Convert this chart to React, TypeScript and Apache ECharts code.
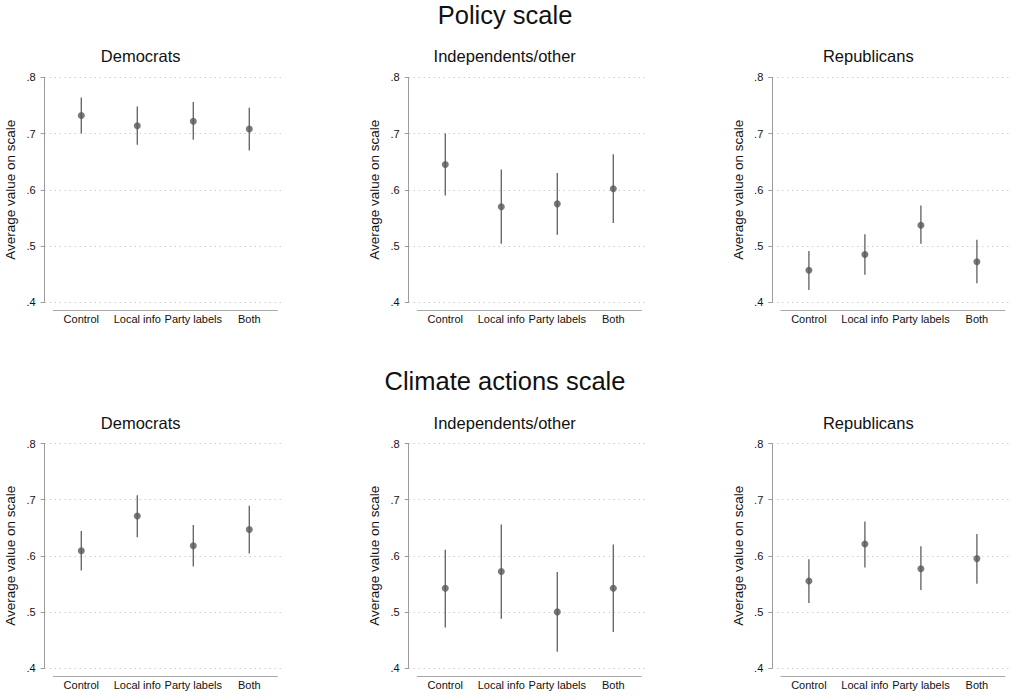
import React, { useEffect, useRef } from "react";
import * as echarts from "echarts";

const categories = ["Control", "Local info", "Party labels", "Both"];
const yTicks = [0.4, 0.5, 0.6, 0.7, 0.8];

const policyDemMean = [0.732, 0.714, 0.722, 0.708];
const policyDemLow = [0.7, 0.68, 0.689, 0.67];
const policyDemHigh = [0.764, 0.748, 0.756, 0.746];

const policyIndMean = [0.645, 0.57, 0.575, 0.602];
const policyIndLow = [0.59, 0.504, 0.52, 0.541];
const policyIndHigh = [0.7, 0.636, 0.63, 0.663];

const policyRepMean = [0.457, 0.485, 0.537, 0.472];
const policyRepLow = [0.422, 0.449, 0.504, 0.434];
const policyRepHigh = [0.491, 0.521, 0.572, 0.511];

const climateDemMean = [0.609, 0.671, 0.618, 0.647];
const climateDemLow = [0.574, 0.633, 0.581, 0.604];
const climateDemHigh = [0.644, 0.708, 0.655, 0.689];

const climateIndMean = [0.542, 0.572, 0.5, 0.542];
const climateIndLow = [0.472, 0.488, 0.429, 0.464];
const climateIndHigh = [0.611, 0.656, 0.571, 0.62];

const climateRepMean = [0.555, 0.621, 0.577, 0.595];
const climateRepLow = [0.516, 0.579, 0.539, 0.55];
const climateRepHigh = [0.594, 0.661, 0.617, 0.639];

const groupTitles = ["Democrats", "Independents/other", "Republicans"];
const rowTitles = ["Policy scale", "Climate actions scale"];
const yAxisTitle = "Average value on scale";

const FONT = "'Liberation Sans', Arial, Helvetica, sans-serif";

const panels = [
  { row: 0, col: 0, mean: policyDemMean, low: policyDemLow, high: policyDemHigh },
  { row: 0, col: 1, mean: policyIndMean, low: policyIndLow, high: policyIndHigh },
  { row: 0, col: 2, mean: policyRepMean, low: policyRepLow, high: policyRepHigh },
  { row: 1, col: 0, mean: climateDemMean, low: climateDemLow, high: climateDemHigh },
  { row: 1, col: 1, mean: climateIndMean, low: climateIndLow, high: climateIndHigh },
  { row: 1, col: 2, mean: climateRepMean, low: climateRepLow, high: climateRepHigh },
];

const rowTop = [77.3, 443.6];
const rowHeight = [225, 224.4];
const colAxisX = [44.7, 408.7, 772.3];
const titleY = [15, 381];
const subTitleY = [56, 423];

function buildOption() {
  const grid: any[] = [];
  const xAxis: any[] = [];
  const yAxis: any[] = [];
  const series: any[] = [];
  const graphic: any[] = [];

  const axisColor = "#9c9c9c";
  const tickFmt = (v: number) => v.toFixed(1).replace(/^0/, "");

  panels.forEach((p, i) => {
    const ax = colAxisX[p.col];
    const top = rowTop[p.row];
    const h = rowHeight[p.row];
    // grid A: gridlines only
    const gA = grid.length;
    grid.push({ left: ax, top, width: 240, height: h, containLabel: false });
    xAxis.push({ gridIndex: gA, type: "value", show: false, min: 0, max: 1 });
    yAxis.push({
      gridIndex: gA,
      type: "value",
      min: 0.4,
      max: 0.8,
      interval: 0.1,
      axisLine: { show: false },
      axisTick: { show: false },
      axisLabel: { show: false },
      splitLine: { show: true, lineStyle: { color: "#b8b8b8", type: [1, 4], width: 1 } },
    });
    // grid B: data
    const gB = grid.length;
    grid.push({ left: ax + 8.6, top, width: 224, height: h, containLabel: false });
    xAxis.push({
      gridIndex: gB,
      type: "category",
      data: categories,
      boundaryGap: true,
      offset: 8.4,
      axisLine: { show: true, lineStyle: { color: "#a8a8a8", width: 1 } },
      axisTick: { show: false },
      axisLabel: { color: "#111", fontSize: 11, fontFamily: FONT, margin: 3, interval: 0 },
      splitLine: { show: false },
    });
    yAxis.push({
      gridIndex: gB,
      type: "value",
      min: 0.4,
      max: 0.8,
      interval: 0.1,
      offset: 8.6,
      name: yAxisTitle,
      nameLocation: "middle",
      nameGap: 27,
      nameTextStyle: { color: "#111", fontSize: 13.5, fontFamily: FONT },
      axisLine: { show: true, lineStyle: { color: axisColor, width: 1 } },
      axisTick: { show: true, length: 4, lineStyle: { color: axisColor, width: 1 } },
      axisLabel: { color: "#111", fontSize: 11, fontFamily: FONT, margin: 9, formatter: tickFmt },
      splitLine: { show: false },
    });
    const axisIdx = xAxis.length - 1;
    series.push({
      type: "custom",
      xAxisIndex: axisIdx,
      yAxisIndex: axisIdx,
      data: categories.map((c, k) => [k, p.low[k], p.high[k]]),
      encode: { x: 0, y: [1, 2] },
      renderItem: (params: any, api: any) => {
        const x = api.value(0);
        const lo = api.coord([x, api.value(1)]);
        const hi = api.coord([x, api.value(2)]);
        return {
          type: "line",
          shape: { x1: lo[0], y1: lo[1], x2: hi[0], y2: hi[1] },
          style: { stroke: "#6a6a6a", lineWidth: 1.4 },
        };
      },
      z: 2,
      silent: true,
    });
    series.push({
      type: "scatter",
      xAxisIndex: axisIdx,
      yAxisIndex: axisIdx,
      data: categories.map((c, k) => [k, p.mean[k]]),
      symbol: "circle",
      symbolSize: 7,
      itemStyle: { color: "#575757" },
      z: 3,
      silent: true,
    });
    graphic.push({
      type: "text",
      x: ax + 96,
      y: subTitleY[p.row],
      style: {
        text: groupTitles[p.col],
        fontSize: 16.5,
        fontFamily: FONT,
        fill: "#111",
        textAlign: "center",
        textVerticalAlign: "middle",
      },
    });
  });

  rowTitles.forEach((t, r) => {
    graphic.push({
      type: "text",
      x: 505,
      y: titleY[r],
      style: {
        text: t,
        fontSize: 25.5,
        fontFamily: FONT,
        fill: "#111",
        textAlign: "center",
        textVerticalAlign: "middle",
      },
    });
  });

  return {
    animation: false,
    backgroundColor: "#ffffff",
    grid,
    xAxis,
    yAxis,
    series,
    graphic,
  };
}

export default function App() {
  const ref = useRef<HTMLDivElement>(null);
  useEffect(() => {
    document.body.style.margin = "0";
    if (!ref.current) return;
    const chart = echarts.init(ref.current, null, { renderer: "svg" });
    chart.setOption(buildOption() as any);
    return () => chart.dispose();
  }, []);
  return <div ref={ref} style={{ width: 1013, height: 696 }} />;
}
